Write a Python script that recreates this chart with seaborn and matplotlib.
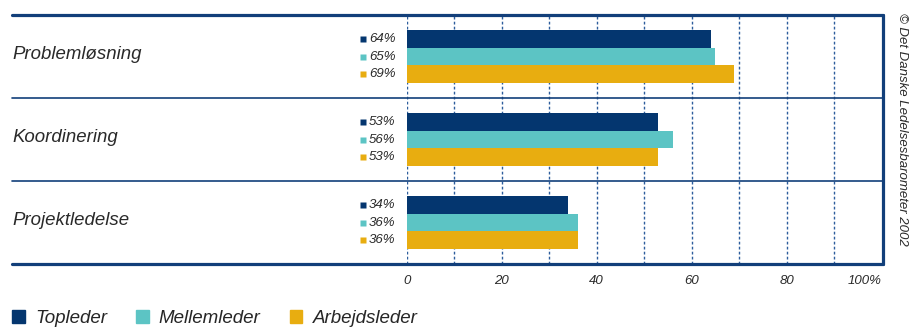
import matplotlib
matplotlib.use("Agg")
import matplotlib.pyplot as plt
import matplotlib.patches as mpatches
import seaborn as sns
import pandas as pd

# Survey results: share of managers naming each competence (%)
categories = ["Problemløsning", "Koordinering", "Projektledelse"]
groups = ["Topleder", "Mellemleder", "Arbejdsleder"]
topleder = [64, 53, 34]
mellemleder = [65, 56, 36]
arbejdsleder = [69, 53, 36]
tick_values = [0, 20, 40, 60, 80, 100]
tick_labels = ["0", "20", "40", "60", "80", "100%"]
source_note = "© Det Danske Ledelsesbarometer 2002"

colors = ["#04366f", "#5cc4c4", "#e8ad10"]
line_color = "#123f7a"
grid_color = "#2d5d9d"
text_color = "#2a2a2a"

sns.set_theme(style="white")
plt.rcParams["font.family"] = ["Liberation Sans", "DejaVu Sans"]
plt.rcParams["font.style"] = "italic"

values = {"Topleder": topleder, "Mellemleder": mellemleder, "Arbejdsleder": arbejdsleder}
df = pd.DataFrame(
    [(c, g, values[g][i]) for i, c in enumerate(categories) for g in groups],
    columns=["kompetence", "gruppe", "andel"],
)

W, H = 909, 327
fig = plt.figure(figsize=(W / 100, H / 100), dpi=100)
x0, x1 = 406.7, 883.0
y_top, y_bot = 15.0, 264.0
ax = fig.add_axes([x0 / W, 1 - y_bot / H, (x1 - x0) / W, (y_bot - y_top) / H])

# dotted vertical guides every 10 %
for v in range(0, 100, 10):
    ax.axvline(v, color=grid_color, lw=1.0, ls=(0, (2, 1.6)), zorder=0)

bar_width = 0.64
sns.barplot(
    data=df, y="kompetence", x="andel", hue="gruppe", order=categories,
    hue_order=groups, palette=colors, orient="h", width=bar_width,
    linewidth=0, saturation=1, legend=False, ax=ax, zorder=2,
)

ax.set_xlim(0, 100.3)
ax.set_ylim(2.5, -0.5)
for s in ax.spines.values():
    s.set_visible(False)
ax.set_xlabel("")
ax.set_ylabel("")
ax.set_yticks([])
ax.set_xticks(tick_values)
ax.set_xticklabels(tick_labels, fontsize=9.5, color=text_color, style="italic")
ax.get_xticklabels()[-1].set_ha("right")
ax.tick_params(axis="x", length=0, pad=8)

# frame: horizontal rules extend to the label column
left_frac = (12 - x0) / (x1 - x0)
ytr = ax.get_yaxis_transform()
ax.plot([left_frac, 1.0], [-0.5, -0.5], color=line_color, lw=2.3, transform=ytr, clip_on=False, zorder=5)
ax.plot([left_frac, 1.0], [2.5, 2.5], color=line_color, lw=2.3, transform=ytr, clip_on=False, zorder=5)
for yv in (0.5, 1.5):
    ax.plot([left_frac, 1.0], [yv, yv], color=line_color, lw=1.2, transform=ytr, clip_on=False, zorder=5)
ax.plot([1.0, 1.0], [-0.5, 2.5], color=line_color, lw=2.3, transform=ytr, clip_on=False, zorder=5)

# category names
for i, c in enumerate(categories):
    ax.text(left_frac, i - 0.02, c, transform=ytr, ha="left", va="center",
            fontsize=13.4, color=text_color, style="italic")

# value labels with small colour keys
bw = bar_width / len(groups)
sq_x = (363.3 - x0) / (x1 - x0)
txt_x = (369.0 - x0) / (x1 - x0)
for i in range(len(categories)):
    for j, g in enumerate(groups):
        yc = i + (j - 1) * bw
        ax.plot([sq_x], [yc], marker="s", ms=4.6, color=colors[j], mec="none",
                transform=ytr, clip_on=False)
        ax.text(txt_x, yc, f"{values[g][i]}%", transform=ytr, ha="left", va="center",
                fontsize=9.5, color=text_color, style="italic")

# source note along the right edge
fig.text(902 / W, 1 - 13 / H, source_note, rotation=-90, ha="center", va="top",
         fontsize=9.5, color=text_color, style="italic")

# legend
handles = [mpatches.Patch(color=c, label=g) for c, g in zip(colors, groups)]
fig.legend(handles=handles, loc="lower left", bbox_to_anchor=(12 / W, 0),
           ncol=3, frameon=False, handlelength=0.67, handleheight=0.67,
           handletextpad=0.55, columnspacing=1.55, borderpad=0, borderaxespad=0,
           prop={"family": "Liberation Sans", "style": "italic", "size": 13.5})

fig.savefig("out.png", dpi=100)
